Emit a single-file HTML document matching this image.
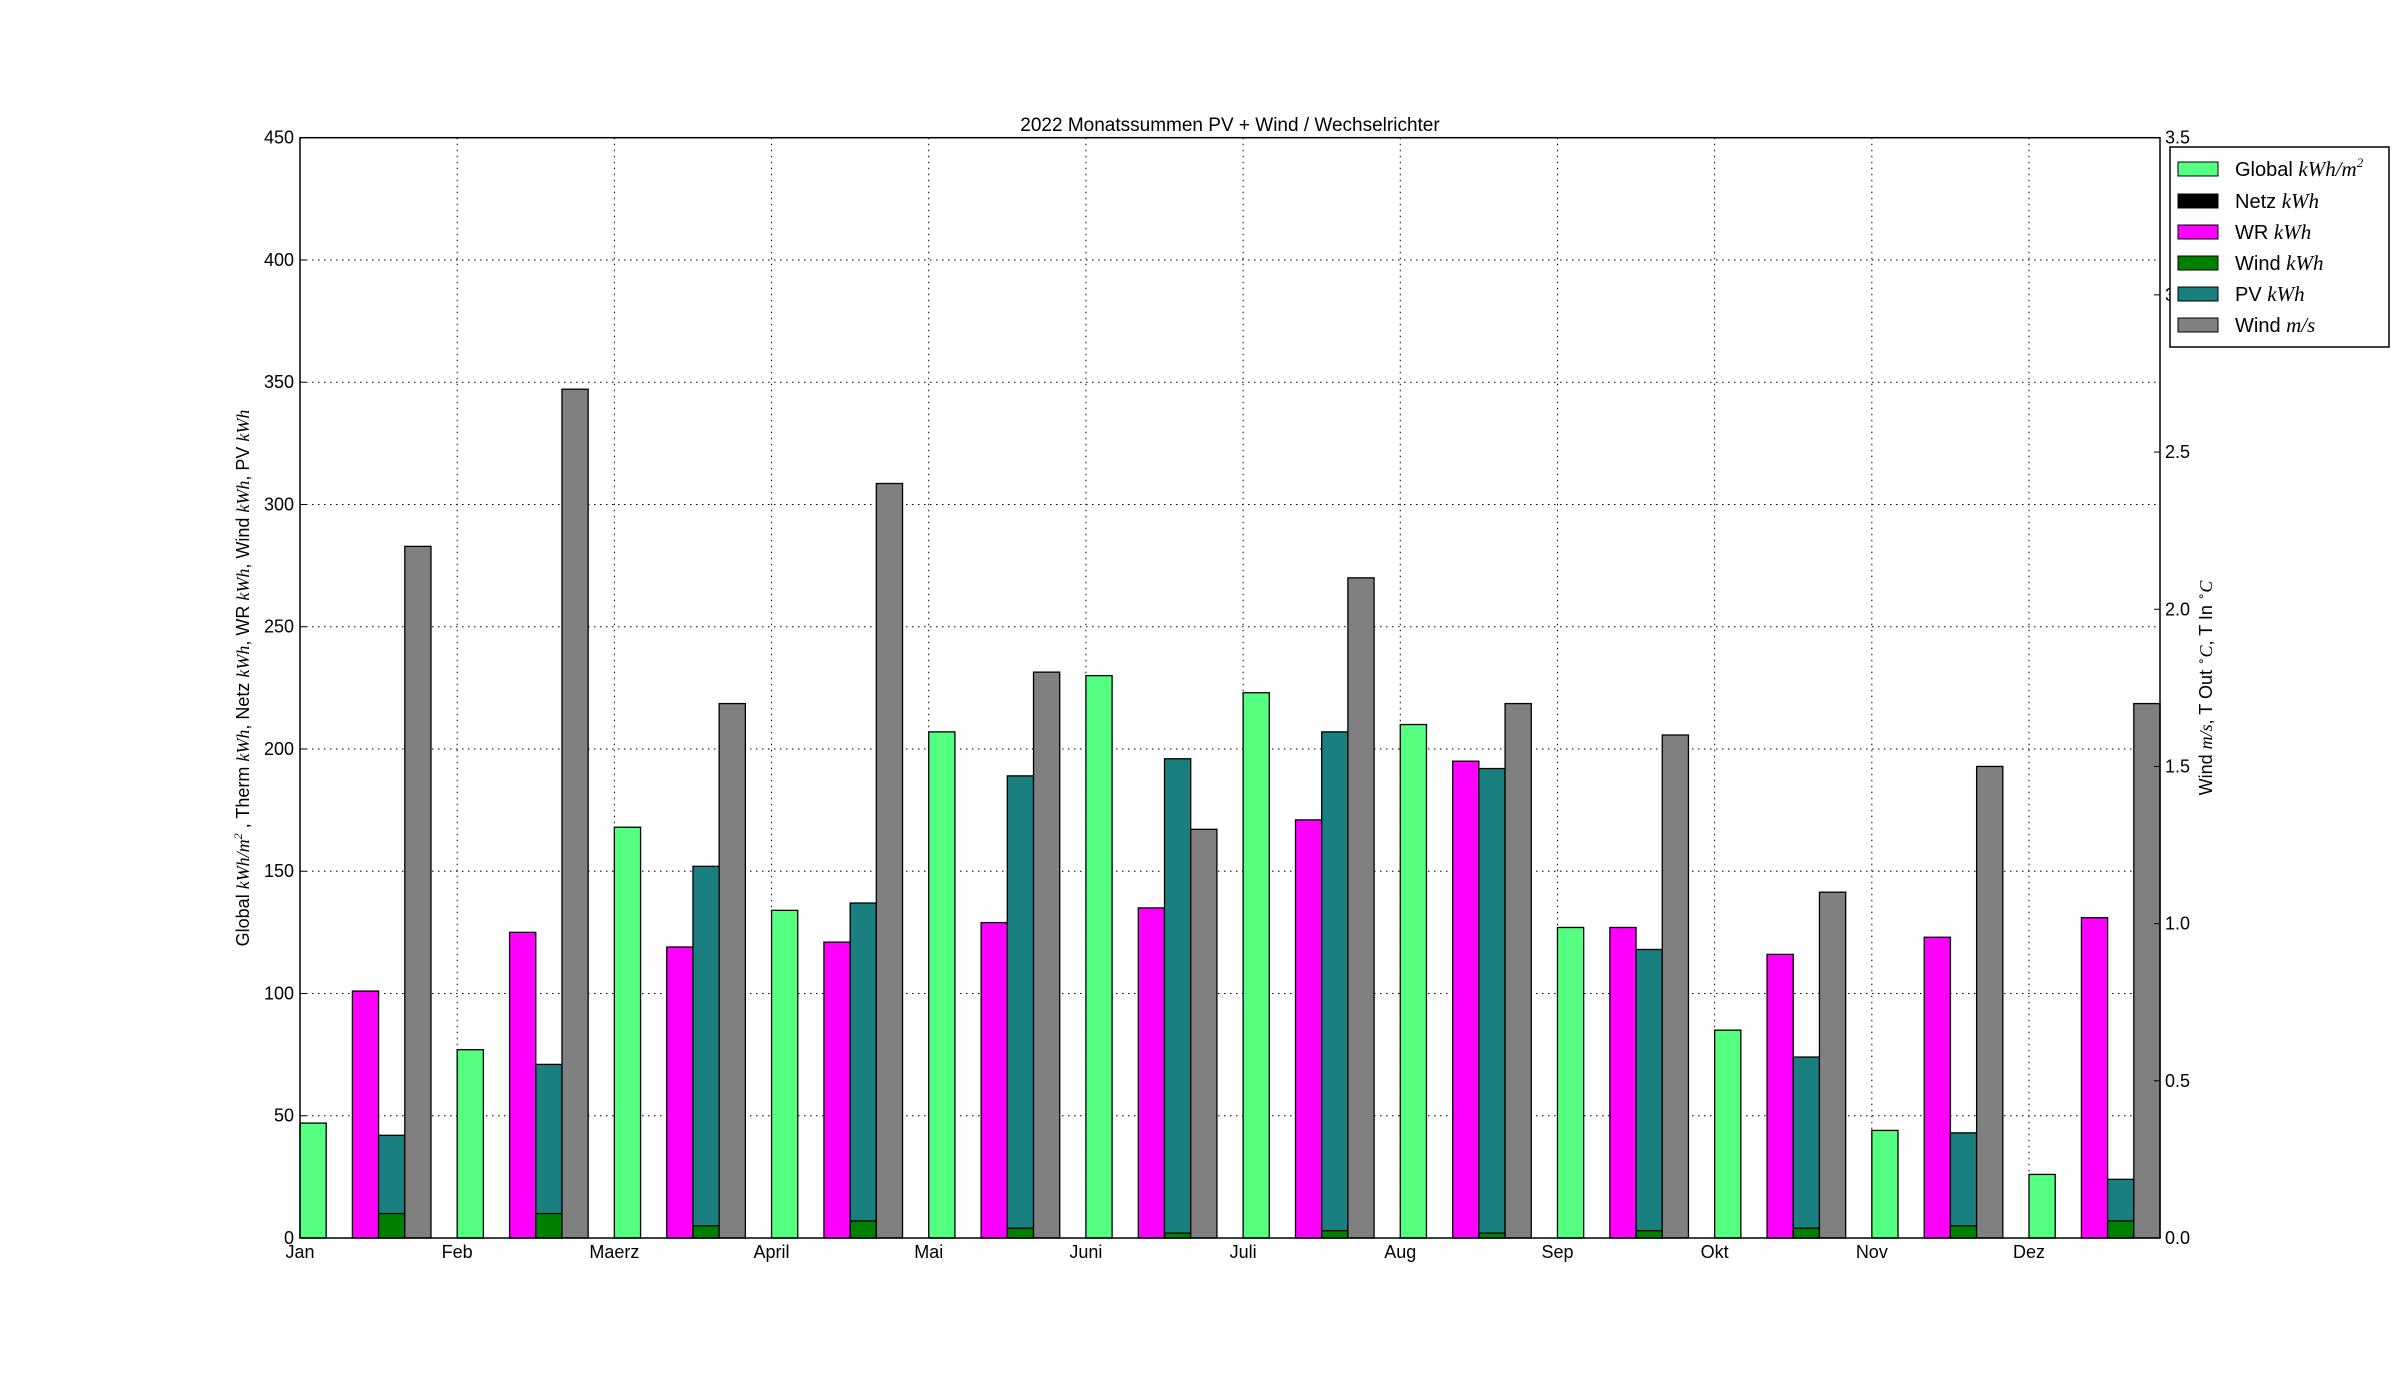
<!DOCTYPE html>
<html><head><meta charset="utf-8"><style>
body{margin:0;background:#fff;}
svg{display:block;font-family:"Liberation Sans","DejaVu Sans",sans-serif;}
.m{font-family:"Liberation Serif","DejaVu Serif",serif;font-style:italic;}
</style></head><body>
<svg id="chart" width="2400" height="1376" viewBox="0 0 2400 1376" xmlns="http://www.w3.org/2000/svg">
<text x="1230" y="131" font-size="19" text-anchor="middle">2022 Monatssummen PV + Wind / Wechselrichter</text>
<g id="grid"></g><g id="bars"></g><g id="axes"></g>
<text transform="translate(249,678) rotate(-90)" font-size="18" text-anchor="middle">Global <tspan class="m">kWh/m</tspan><tspan class="m" font-size="12" dy="-7">2</tspan><tspan dy="7"> , Therm </tspan><tspan class="m">kWh</tspan>, Netz <tspan class="m">kWh</tspan>, WR <tspan class="m">kWh</tspan>, Wind <tspan class="m">kWh</tspan>, PV <tspan class="m">kWh</tspan></text>
<text transform="translate(2212,688) rotate(-90)" font-size="18" text-anchor="middle">Wind <tspan class="m">m/s</tspan>, T Out <tspan font-size="12" dy="-7">∘</tspan><tspan class="m" dy="7">C</tspan>, T In <tspan font-size="12" dy="-7">∘</tspan><tspan class="m" dy="7">C</tspan></text>
<g id="legend"></g>
</svg>
<script>
const months = ["Jan","Feb","Maerz","April","Mai","Juni","Juli","Aug","Sep","Okt","Nov","Dez"];
const globalKwhM2 = [47,77,168,134,207,230,223,210,127,85,44,26];
const netzKwh = [0,0,0,0,0,0,0,0,0,0,0,0];
const wrKwh = [101,125,119,121,129,135,171,195,127,116,123,131];
const windKwh = [10,10,5,7,4,2,3,2,3,4,5,7];
const pvKwh = [42,71,152,137,189,196,207,192,118,74,43,24];
const windMs = [2.2,2.7,1.7,2.4,1.8,1.3,2.1,1.7,1.6,1.1,1.5,1.7];
const yTicks = [0,50,100,150,200,250,300,350,400,450];
const y2Ticks = ["0.0","0.5","1.0","1.5","2.0","2.5","3.0","3.5"];

const NS="http://www.w3.org/2000/svg";
const L=300,R=2160,T=137.7,B=1238;
const bw=1/6, xmax=11+5*bw;
const X=v=>L+(R-L)*v/xmax;
const Y=v=>B-(B-T)*v/450;
const Y2=v=>B-(B-T)*v/3.5;
function mk(tag,attrs,parent){const e=document.createElementNS(NS,tag);for(const k in attrs)e.setAttribute(k,attrs[k]);parent.appendChild(e);return e;}
const grid=document.getElementById('grid'),bars=document.getElementById('bars'),axes=document.getElementById('axes');
yTicks.forEach(t=>{
  const g=mk('line',{x1:L,x2:R,y1:Y(t),y2:Y(t),stroke:'#000','stroke-width':1,'stroke-dasharray':'1.5,4.5'},grid);
  
  
  const tk=mk('line',{x1:L,x2:L+6,y1:Y(t),y2:Y(t),stroke:'#000'},axes);
  
  
  const tx=mk('text',{x:L-6,y:Y(t)+6,'font-size':18,'text-anchor':'end'},axes);
  tx.textContent=t;
  
  
});
y2Ticks.forEach(t=>{
  const v=parseFloat(t);
  const tk=mk('line',{x1:R-6,x2:R,y1:Y2(v),y2:Y2(v),stroke:'#000'},axes);
  
  
  const tx=mk('text',{x:R+5,y:Y2(v)+6,'font-size':18},axes);
  tx.textContent=t;
  
  
});
months.forEach((m,i)=>{
  const g=mk('line',{x1:X(i),x2:X(i),y1:T,y2:B,stroke:'#000','stroke-width':1,'stroke-dasharray':'1.5,4.5'},grid);
  
  
  const tx=mk('text',{x:X(i),y:B+20,'font-size':18,'text-anchor':'middle'},axes);
  tx.textContent=m;
  
  
});
function bar(i,off,val,fill,name,yf){
  const x0=X(i+off*bw),x1=X(i+(off+1)*bw);
  const y=yf(val);
  const r=mk('rect',{x:x0,y:y,width:x1-x0,height:B-y,fill:fill,stroke:'#000','stroke-width':1.3},bars);
  
  
}
months.forEach((m,i)=>{
  bar(i,0,globalKwhM2[i],'#55ff7f','bar-global',Y);
  bar(i,1,netzKwh[i],'#000','bar-netz',Y);
  bar(i,2,wrKwh[i],'#ff00ff','bar-wr',Y);
  bar(i,3,pvKwh[i],'#1a7f7f','bar-pv',Y);
  bar(i,3,windKwh[i],'#008000','bar-wind-kwh',Y);
  bar(i,4,windMs[i],'#808080','bar-wind-ms',Y2);
});
const fr=mk('rect',{x:L,y:T,width:R-L,height:B-T,fill:'none',stroke:'#000','stroke-width':1.5},axes);


const lg=document.getElementById('legend');
const lb=mk('rect',{x:2170,y:147,width:219,height:200,fill:'#fff',stroke:'#000','stroke-width':1.5},lg);


const items=[["#55ff7f","Global ","kWh/m","2"],["#000","Netz ","kWh",""],["#ff00ff","WR ","kWh",""],["#008000","Wind ","kWh",""],["#1a7f7f","PV ","kWh",""],["#808080","Wind ","m/s",""]];
const ly=[169,201,232,263,294,325];
items.forEach((it,k)=>{
  const sw=mk('rect',{x:2178,y:ly[k]-7,width:40,height:14,fill:it[0],stroke:'#000','stroke-width':1},lg);
  
  
  const t=mk('text',{x:2235,y:ly[k]+7,'font-size':20},lg);
  
  
  t.appendChild(document.createTextNode(it[1]));
  const s=mk('tspan',{class:'m','font-size':21},t);s.textContent=it[2];
  if(it[3]){const s2=mk('tspan',{'font-size':13,dy:-9,class:'m'},t);s2.textContent=it[3];}
});
</script>
</body></html>
